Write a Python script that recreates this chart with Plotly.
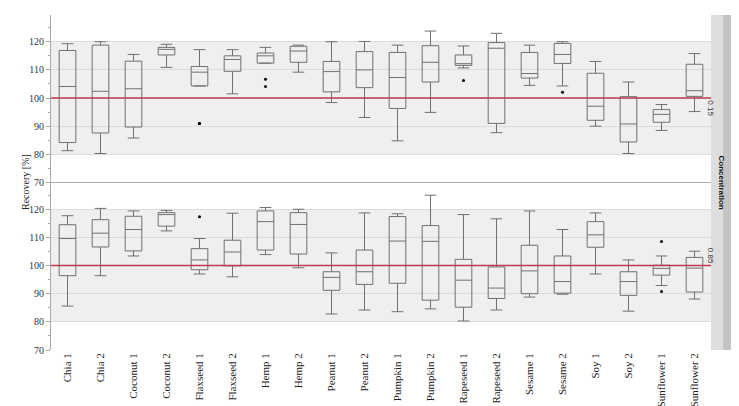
import plotly.graph_objects as go
from plotly.subplots import make_subplots

cats = ["Chia 1","Chia 2","Coconut 1","Coconut 2","Flaxseed 1","Flaxseed 2","Hemp 1","Hemp 2",
        "Peanut 1","Peanut 2","Pumpkin 1","Pumpkin 2","Rapeseed 1","Rapeseed 2","Sesame 1","Sesame 2",
        "Soy 1","Soy 2","Sunflower 1","Sunflower 2"]

# Concentration 0.15
lo15  = [81.3,80.3,85.8,110.9,104.3,101.5,112.4,109.2,98.4,93.1,84.8,94.9,110.7,87.7,104.5,104.3,90.0,80.3,88.5,95.2]
q1_15 = [84.2,87.6,89.7,115.3,104.3,109.5,112.4,112.7,102.2,103.7,96.3,105.7,111.6,91.0,107.1,112.3,92.1,84.4,91.4,100.6]
md15  = [104.1,102.4,103.3,117.3,109.2,113.7,115.0,116.7,109.4,110.0,107.3,112.7,112.2,117.7,108.7,115.5,97.1,90.8,94.2,102.6]
q3_15 = [116.9,118.8,113.1,118.0,111.2,115.0,116.0,118.4,113.0,116.5,116.2,118.6,115.3,119.7,116.2,119.4,108.8,100.5,95.9,112.0]
hi15  = [119.3,120.0,115.5,119.1,117.2,117.2,118.0,118.8,120.0,120.1,118.8,123.8,118.5,123.0,118.8,120.0,113.0,105.7,97.7,115.8]
out15_x = ["Flaxseed 1","Flaxseed 1","Hemp 1","Hemp 1","Rapeseed 1","Sesame 2"]
out15_y = [91.0,91.0,106.7,104.1,106.2,102.1]

# Concentration 0.85
lo85  = [85.6,96.4,103.4,112.3,97.0,96.0,103.9,99.2,82.8,84.2,83.6,84.6,80.3,84.2,88.8,89.8,97.0,83.8,92.9,88.1]
q1_85 = [96.4,106.6,105.2,114.0,98.5,99.9,105.5,104.1,91.2,93.3,93.7,87.7,85.2,88.3,90.0,90.2,106.5,89.4,96.6,90.6]
md85  = [109.6,111.5,112.8,118.1,102.0,104.8,115.6,114.6,95.8,97.8,108.7,108.6,94.8,92.0,98.1,94.3,110.9,94.3,99.0,99.1]
q3_85 = [114.5,116.3,117.5,118.8,106.0,109.0,119.4,118.8,97.8,105.5,117.4,114.2,102.2,99.5,107.2,103.4,115.6,97.8,100.1,102.9]
hi85  = [117.7,120.3,119.4,119.6,109.6,118.6,120.6,120.0,104.5,118.7,118.4,125.0,118.1,116.6,119.4,112.8,118.7,102.0,103.4,105.1]
out85_x = ["Flaxseed 1","Sunflower 1","Sunflower 1"]
out85_y = [117.3,108.5,90.8]

yticks = [70,80,90,100,110,120]
panels = ["0.15","0.85"]

fig = make_subplots(rows=2, cols=1, shared_xaxes=True, vertical_spacing=0)
font = "Liberation Serif"
for r,(lo,q1,md,q3,hi,ox,oy) in enumerate([(lo15,q1_15,md15,q3_15,hi15,out15_x,out15_y),
                                            (lo85,q1_85,md85,q3_85,hi85,out85_x,out85_y)], start=1):
    fig.add_trace(go.Box(x=cats, q1=q1, median=md, q3=q3, lowerfence=lo, upperfence=hi,
                         fillcolor="rgba(0,0,0,0)", line=dict(color="#707070", width=1),
                         whiskerwidth=0.7, boxpoints=False, showlegend=False), row=r, col=1)
    fig.add_trace(go.Scatter(x=ox, y=oy, mode="markers", marker=dict(color="black", size=3),
                             showlegend=False), row=r, col=1)
    yref = "y" if r == 1 else "y2"
    fig.add_shape(type="rect", xref="paper", yref=yref, x0=0, x1=1, y0=80, y1=120,
                  fillcolor="#efefef", line_width=0, layer="below")
    fig.add_shape(type="line", xref="paper", yref=yref, x0=0, x1=1, y0=100, y1=100,
                  line=dict(color="#c0394a", width=1.5))
    fig.update_yaxes(range=[70,129.5], tickvals=yticks, showgrid=True, gridcolor="#dcdcdc",
                     zeroline=False, showline=True, linecolor="#aaaaaa", ticks="outside",
                     ticklen=4, tickcolor="#aaaaaa",
                     minor=dict(dtick=5, ticks="outside", ticklen=2, tickcolor="#aaaaaa"),
                     tickfont=dict(family=font, size=10, color="#333"), row=r, col=1)

fig.add_shape(type="line", xref="paper", yref="paper", x0=0, x1=1, y0=0.5, y1=0.5,
              line=dict(color="#aaaaaa", width=1))
# strips
fig.add_shape(type="rect", xref="paper", yref="paper", x0=1.0, x1=1.018, y0=0, y1=1,
              fillcolor="#dddddd", line_width=0)
fig.add_shape(type="rect", xref="paper", yref="paper", x0=1.018, x1=1.035, y0=0, y1=1,
              fillcolor="#c4c4c4", line_width=0)
for yy, t in [(0.75, panels[0]), (0.25, panels[1])]:
    fig.add_annotation(xref="paper", yref="paper", x=1.009, y=yy, text=t, textangle=90,
                       showarrow=False, font=dict(family="Liberation Sans", size=8, color="#333"))
fig.add_annotation(xref="paper", yref="paper", x=1.0265, y=0.5, text="<b>Concentration</b>",
                   textangle=90, showarrow=False, font=dict(family="Liberation Sans", size=8, color="#111"))

fig.update_xaxes(showgrid=False, showline=False, tickangle=-90,
                 tickfont=dict(family=font, size=11, color="#222"))
fig.update_yaxes(title_text="Recovery [%]", title_font=dict(family=font, size=10, color="#222"),
                 title_standoff=4, row=1, col=1)
fig.update_layout(width=739, height=406, margin=dict(l=43, r=36, t=7, b=57),
                  plot_bgcolor="white", paper_bgcolor="white", boxgap=0.28)
fig.layout.yaxis.title.text = None
fig.add_annotation(xref="paper", yref="paper", x=-0.05, y=0.5, text="Recovery [%]", textangle=-90,
                   showarrow=False, font=dict(family=font, size=10, color="#222"))
fig.write_html("out.html")
